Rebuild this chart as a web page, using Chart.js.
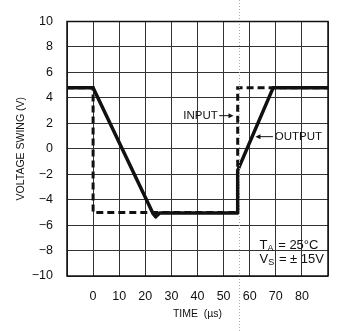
<!DOCTYPE html>
<html>
<head>
<meta charset="utf-8">
<script src="https://cdn.jsdelivr.net/npm/chart.js@4/dist/chart.umd.min.js"></script>
<style>
  html, body { margin: 0; padding: 0; background: #fff; }
  canvas { display: block; }
</style>
</head>
<body>
<canvas id="chart" width="341" height="331"></canvas>
<script>
// time in microseconds, voltage in volts
const outputTime = [-10, 0, 23, 24, 25.5, 55.4, 55.4, 69, 90];
const outputVolts = [4.8, 4.8, -5.1, -5.35, -5.05, -5.05, -1.7, 4.8, 4.8];
const inputTime = [-10, 0, 0, 55.4, 55.4, 90];
const inputVolts = [4.8, 4.8, -5, -5, 4.8, 4.8];

const xTicks = [-10, 0, 10, 20, 30, 40, 50, 60, 70, 80, 90];
const xLabels = [0, 10, 20, 30, 40, 50, 60, 70, 80];
const yTicks = [-10, -8, -6, -4, -2, 0, 2, 4, 6, 8, 10];

const font = '"Liberation Sans", Arial, sans-serif';

function pts(xs, ys) {
  return xs.map((x, i) => ({ x: x, y: ys[i] }));
}

function fmt(v) {
  return v < 0 ? '\u2212' + Math.abs(v) : String(v);
}

// labels, arrows and conditions box
const notes = {
  id: 'notes',
  afterDraw(chart) {
    const ctx = chart.ctx;
    const xs = chart.scales.x, ys = chart.scales.y;
    const a = chart.chartArea;
    ctx.save();

    // faint scan line
    ctx.strokeStyle = '#aaa';
    ctx.lineWidth = 1;
    ctx.setLineDash([1, 2]);
    const sx = Math.round(xs.getPixelForValue(55.8)) + 0.5;
    ctx.beginPath(); ctx.moveTo(sx, 0); ctx.lineTo(sx, 331); ctx.stroke();
    ctx.setLineDash([]);

    // plot frame
    ctx.strokeStyle = '#111';
    ctx.lineWidth = 1.5;
    ctx.strokeRect(a.left, a.top, a.right - a.left, a.bottom - a.top);

    ctx.fillStyle = '#111';
    ctx.strokeStyle = '#111';
    ctx.font = '11.5px ' + font;
    ctx.textBaseline = 'middle';

    // INPUT ->
    let y = ys.getPixelForValue(2.6);
    ctx.textAlign = 'right';
    ctx.fillText('INPUT', xs.getPixelForValue(47.8), y);
    let x0 = xs.getPixelForValue(48.3), x1 = xs.getPixelForValue(53.8);
    ctx.lineWidth = 1;
    ctx.beginPath(); ctx.moveTo(x0, y); ctx.lineTo(x1 - 4, y); ctx.stroke();
    ctx.beginPath(); ctx.moveTo(x1, y); ctx.lineTo(x1 - 5, y - 2.5); ctx.lineTo(x1 - 5, y + 2.5); ctx.closePath(); ctx.fill();

    // <- OUTPUT
    y = ys.getPixelForValue(0.95);
    ctx.textAlign = 'left';
    ctx.fillText('OUTPUT', xs.getPixelForValue(69.6), y);
    x0 = xs.getPixelForValue(68.9); x1 = xs.getPixelForValue(62.2);
    ctx.beginPath(); ctx.moveTo(x0, y); ctx.lineTo(x1 + 4, y); ctx.stroke();
    ctx.beginPath(); ctx.moveTo(x1, y); ctx.lineTo(x1 + 5, y - 2.5); ctx.lineTo(x1 + 5, y + 2.5); ctx.closePath(); ctx.fill();

    // conditions
    const cx = xs.getPixelForValue(63.8);
    const drawSub = (main, sub, rest, yy) => {
      ctx.font = '13px ' + font;
      ctx.fillText(main, cx, yy);
      let w = ctx.measureText(main).width;
      ctx.font = '9px ' + font;
      ctx.fillText(sub, cx + w, yy + 3);
      w += ctx.measureText(sub).width;
      ctx.font = '13px ' + font;
      ctx.fillText(rest, cx + w + 1, yy);
    };
    drawSub('T', 'A', ' = 25\u00b0C', ys.getPixelForValue(-7.6));
    drawSub('V', 'S', ' = \u00b1 15V', ys.getPixelForValue(-8.7));

    ctx.restore();
  }
};

new Chart(document.getElementById('chart'), {
  type: 'line',
  data: {
    datasets: [
      {
        label: 'OUTPUT',
        data: pts(outputTime, outputVolts),
        borderColor: '#111',
        borderWidth: 3.5,
        pointRadius: 0,
        tension: 0,
        borderJoinStyle: 'round'
      },
      {
        label: 'INPUT',
        data: pts(inputTime, inputVolts),
        borderColor: '#111',
        borderWidth: 3,
        borderDash: [7, 4],
        pointRadius: 0,
        tension: 0
      }
    ]
  },
  options: {
    responsive: false,
    animation: false,
    layout: { padding: { top: 13, right: 7, left: 15, bottom: 0 } },
    plugins: { legend: { display: false }, tooltip: { enabled: false } },
    scales: {
      x: {
        type: 'linear',
        min: -10,
        max: 90,
        afterBuildTicks: s => { s.ticks = xTicks.map(v => ({ value: v })); },
        afterFit: s => { s.height = 55; },
        grid: { color: '#333', lineWidth: 1, drawTicks: false },
        border: { display: false },
        ticks: {
          padding: 13,
          color: '#111',
          font: { family: font, size: 12.5 },
          callback: v => xLabels.includes(v) ? String(v) : ''
        },
        title: {
          display: true,
          text: 'TIME  (\u00b5s)',
          color: '#111',
          font: { family: font, size: 10.5 },
          padding: { top: 0, bottom: 11 }
        }
      },
      y: {
        min: -10,
        max: 10,
        afterBuildTicks: s => { s.ticks = yTicks.map(v => ({ value: v })); },
        afterFit: s => { s.width = 52; },
        grid: { color: '#333', lineWidth: 1, drawTicks: false },
        border: { display: false },
        ticks: {
          padding: 14,
          color: '#111',
          font: { family: font, size: 12.5 },
          callback: v => fmt(v)
        },
        title: {
          display: true,
          text: 'VOLTAGE SWING (V)',
          color: '#111',
          font: { family: font, size: 10.5 },
          padding: { top: 0, bottom: 4 }
        }
      }
    }
  },
  plugins: [notes]
});
</script>
</body>
</html>
